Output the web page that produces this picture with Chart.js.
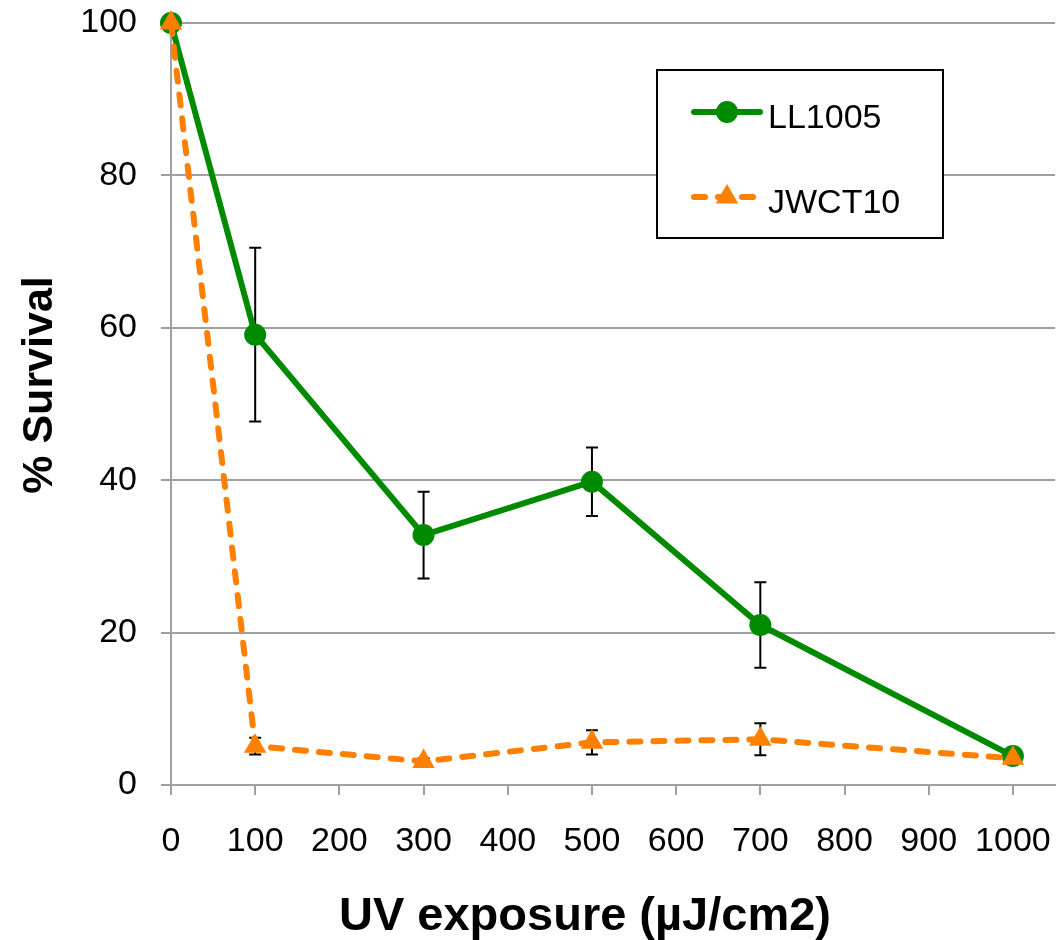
<!DOCTYPE html>
<html>
<head>
<meta charset="utf-8">
<title>% Survival</title>
<script src="https://cdn.jsdelivr.net/npm/chart.js@4/dist/chart.umd.min.js"></script>
<style>
    html, body { margin: 0; padding: 0; background: #fff; overflow: hidden; }
    #contenedor { width: 1060px; height: 940px; }
</style>
</head>
<body>
<div id="contenedor"><canvas id="grafico-uv"></canvas></div>
<script>
// Datos
const dosisUV = [0, 100, 300, 500, 700, 1000];
const ticksX = [0, 100, 200, 300, 400, 500, 600, 700, 800, 900, 1000];
const ticksY = [0, 20, 40, 60, 80, 100];
const supervivenciaLL1005 = [100, 59.1, 32.8, 39.8, 21.0, 3.8];
const errorLL1005 = [0, 11.4, 5.7, 4.5, 5.6, 0.5];
const supervivenciaJWCT10 = [100, 5.1, 3.1, 5.6, 6.0, 3.5];
const errorJWCT10 = [0, 1.1, 0.4, 1.6, 2.1, 0.4];

(function() {
    const VERDE = '#008a00';
    const NARANJA = '#ff8000';
    const GRIS = '#a0a0a0';
    const FUENTE = "'Liberation Sans', Arial, sans-serif";

    function puntos(valores) {
        return dosisUV.map((x, i) => ({ x: x, y: valores[i] }));
    }

    // Barras de error (se dibujan debajo de las series)
    const pluginErrores = {
        id: 'barrasError',
        beforeDatasetsDraw(chart) {
            const ctx = chart.ctx;
            const xs = chart.scales.x, ys = chart.scales.y;
            ctx.save();
            ctx.strokeStyle = '#000';
            ctx.lineWidth = 2;
            chart.data.datasets.forEach(ds => {
                ds.errores.forEach((e, i) => {
                    if (!e) return;
                    const v = ds.data[i].y;
                    const px = xs.getPixelForValue(ds.data[i].x);
                    const arriba = ys.getPixelForValue(v + e);
                    const abajo = ys.getPixelForValue(v - e);
                    ctx.beginPath();
                    ctx.moveTo(px, arriba); ctx.lineTo(px, abajo);
                    ctx.moveTo(px - 6, arriba); ctx.lineTo(px + 6, arriba);
                    ctx.moveTo(px - 6, abajo); ctx.lineTo(px + 6, abajo);
                    ctx.stroke();
                });
            });
            ctx.restore();
        }
    };

    // Leyenda dentro del área y títulos de los ejes
    const pluginLeyenda = {
        id: 'leyendaCaja',
        afterDatasetsDraw(chart) {
            const ctx = chart.ctx;
            const area = chart.chartArea;
            const x0 = area.left + 486, y0 = 70, ancho = 286, alto = 168;
            ctx.save();
            ctx.fillStyle = '#fff';
            ctx.fillRect(x0, y0, ancho, alto);
            ctx.strokeStyle = '#000';
            ctx.lineWidth = 2;
            ctx.strokeRect(x0, y0, ancho, alto);

            const filas = [chart.data.datasets[1], chart.data.datasets[0]];
            filas.forEach((ds, i) => {
                const yc = 112 + i * 85;
                ctx.strokeStyle = ds.borderColor;
                ctx.lineWidth = ds.borderWidth;
                ctx.lineCap = 'round';
                ctx.setLineDash(ds.borderDash || []);
                ctx.beginPath();
                ctx.moveTo(x0 + 37, yc); ctx.lineTo(x0 + 103, yc);
                ctx.stroke();
                ctx.setLineDash([]);
                ctx.fillStyle = ds.backgroundColor;
                Chart.helpers.drawPoint(ctx, {
                    pointStyle: ds.pointStyle, radius: ds.pointRadius,
                    rotation: 0, borderWidth: 0
                }, x0 + 70, yc);
                ctx.fillStyle = '#000';
                ctx.font = '34px ' + FUENTE;
                ctx.textAlign = 'left';
                ctx.textBaseline = 'alphabetic';
                ctx.fillText(ds.label, x0 + 111, yc + 16);
            });

            // Títulos
            ctx.fillStyle = '#000';
            ctx.font = 'bold 47px ' + FUENTE;
            ctx.textAlign = 'center';
            ctx.fillText('UV exposure (µJ/cm2)', 585, 930);
            ctx.translate(52, 385);
            ctx.rotate(-Math.PI / 2);
            ctx.font = 'bold 43px ' + FUENTE;
            ctx.fillText('% Survival', 0, 0);
            ctx.restore();
        }
    };

    // Sin margen extra para las etiquetas de los extremos
    function sinRelleno(eje) {
        eje.paddingTop = 0;
        eje.paddingBottom = 0;
        eje.paddingLeft = 0;
        eje.paddingRight = 0;
    }

    function crearGrafico() {
        const ctx = document.getElementById('grafico-uv');
        new Chart(ctx, {
            type: 'line',
            data: {
                datasets: [{
                    label: 'JWCT10',
                    data: puntos(supervivenciaJWCT10),
                    errores: errorJWCT10,
                    borderColor: NARANJA,
                    backgroundColor: NARANJA,
                    borderWidth: 6,
                    borderDash: [11, 13],
                    borderCapStyle: 'round',
                    pointStyle: 'triangle',
                    pointRadius: 13,
                    pointBorderWidth: 0,
                    clip: false,
                    order: 0
                }, {
                    label: 'LL1005',
                    data: puntos(supervivenciaLL1005),
                    errores: errorLL1005,
                    borderColor: VERDE,
                    backgroundColor: VERDE,
                    borderWidth: 6,
                    pointStyle: 'circle',
                    pointRadius: 11,
                    pointBorderWidth: 0,
                    clip: false,
                    order: 1
                }]
            },
            options: {
                responsive: true,
                maintainAspectRatio: false,
                animation: false,
                layout: { autoPadding: false, padding: { top: 23, right: 5, left: 0, bottom: 0 } },
                plugins: { legend: { display: false }, tooltip: { enabled: false } },
                scales: {
                    x: {
                        type: 'linear',
                        min: 0,
                        max: 1050,
                        afterBuildTicks: (eje) => { eje.ticks = ticksX.map(v => ({ value: v })); },
                        afterFit: (eje) => { eje.height = 155; sinRelleno(eje); },
                        grid: { drawOnChartArea: false, drawTicks: true, tickLength: 10, color: GRIS, lineWidth: 2 },
                        border: { color: GRIS, width: 2 },
                        ticks: {
                            color: '#000', padding: 26, maxRotation: 0, autoSkip: false,
                            font: { family: FUENTE, size: 34 },
                            callback: (v) => String(v)
                        }
                    },
                    y: {
                        min: 0,
                        max: 100,
                        afterBuildTicks: (eje) => { eje.ticks = ticksY.map(v => ({ value: v })); },
                        afterFit: (eje) => { eje.width = 171; sinRelleno(eje); },
                        grid: { color: GRIS, lineWidth: 2, tickLength: 10 },
                        border: { color: GRIS, width: 2 },
                        ticks: { color: '#000', padding: 24, font: { family: FUENTE, size: 34 } }
                    }
                }
            },
            plugins: [pluginErrores, pluginLeyenda]
        });
    }

    if (document.readyState === 'loading') {
        document.addEventListener('DOMContentLoaded', crearGrafico);
    } else {
        crearGrafico();
    }
})();
</script>
</body>
</html>
